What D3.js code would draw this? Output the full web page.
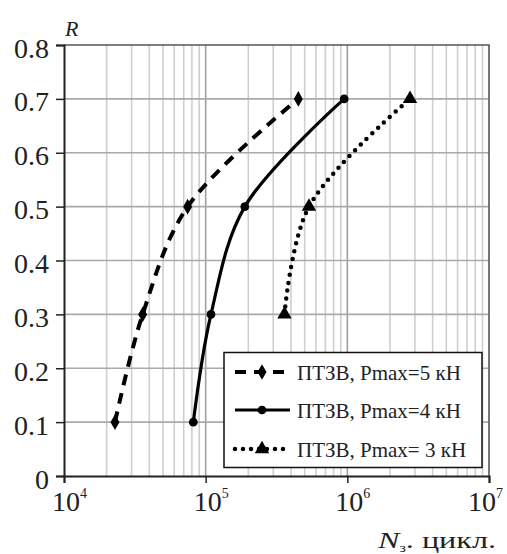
<!DOCTYPE html>
<html>
<head>
<meta charset="utf-8">
<script src="https://cdn.jsdelivr.net/npm/d3@7"></script>
</head>
<body style="margin:0">
<svg id="chart" width="507" height="554"></svg>
<script>
// R values (y) and cycles to failure (x) for each load
const rValues5 = [0.1, 0.3, 0.5, 0.7];
const nValues5 = [22900, 35900, 74600, 451000];
const rValues4 = [0.1, 0.3, 0.5, 0.7];
const nValues4 = [81800, 109000, 189000, 950000];
const rValues3 = [0.3, 0.5, 0.7];
const nValues3 = [360000, 536000, 2770000];

const seriesNames = ['ПТЗВ, Pmax=5 кН', 'ПТЗВ, Pmax=4 кН', 'ПТЗВ, Pmax= 3 кН'];
const yTicks = [0, 0.1, 0.2, 0.3, 0.4, 0.5, 0.6, 0.7, 0.8];
const xDecades = [4, 5, 6, 7];

const plotL = 64, plotR = 489, plotT = 45, plotB = 476;
const FONT = 'Liberation Serif';

const svg = d3.select('#chart');

const xscale = d3.scaleLog()
                .domain([1e4, 1e7])
                .range([plotL, plotR]);

const yscale = d3.scaleLinear()
                .domain([0, 0.8])
                .range([plotB, plotT]);

// grid: minor verticals
const minor = [];
[1e4, 1e5, 1e6].forEach(d => { for (let k = 2; k <= 9; k++) minor.push(d * k); });

svg.append('g').selectAll('line')
  .data(minor)
  .enter().append('line')
  .attr('x1', d => xscale(d)).attr('x2', d => xscale(d))
  .attr('y1', plotT).attr('y2', plotB)
  .attr('stroke', '#cfcfcf')
  .attr('stroke-width', 1.6);

svg.append('g').selectAll('line')
  .data([1e5, 1e6])
  .enter().append('line')
  .attr('x1', d => xscale(d)).attr('x2', d => xscale(d))
  .attr('y1', plotT).attr('y2', plotB)
  .attr('stroke', '#a0a0a0')
  .attr('stroke-width', 1.6);

svg.append('g').selectAll('line')
  .data(yTicks.slice(1, -1))
  .enter().append('line')
  .attr('x1', plotL).attr('x2', plotR)
  .attr('y1', d => yscale(d)).attr('y2', d => yscale(d))
  .attr('stroke', '#aaaaaa')
  .attr('stroke-width', 1.6);

// frame top/right
svg.append('path')
  .attr('d', `M${plotL},${plotT}H${plotR}V${plotB}`)
  .attr('fill', 'none')
  .attr('stroke', '#555')
  .attr('stroke-width', 1.6);

// axes
const y_axis = d3.axisLeft(yscale)
                .tickValues(yTicks)
                .tickSize(8)
                .tickFormat(d => d === 0 ? '0' : d3.format('.1f')(d));

const yg = svg.append('g')
  .attr('transform', `translate(${plotL},0)`)
  .call(y_axis)
  .attr('font-family', FONT)
  .attr('font-size', 28);
yg.select('.domain').attr('stroke', '#222').attr('stroke-width', 2);
yg.selectAll('.tick line').attr('stroke', '#222').attr('stroke-width', 1.5);
yg.selectAll('.tick text')
  .attr('x', -15)
  .attr('dy', '0.43em')
  .attr('font-family', FONT)
  .attr('font-size', 28)
  .attr('fill', '#222');

const x_axis = d3.axisBottom(xscale)
                .tickValues(xDecades.map(p => Math.pow(10, p)))
                .tickSize(7)
                .tickFormat('');

const xg = svg.append('g')
  .attr('transform', `translate(0,${plotB})`)
  .call(x_axis);
xg.select('.domain').attr('stroke', '#222').attr('stroke-width', 2);
xg.selectAll('.tick line').attr('stroke', '#222').attr('stroke-width', 1.5);

// decade labels 10^n (last one pulled in so it fits)
const xl = svg.append('g').selectAll('text')
  .data(xDecades)
  .enter().append('text')
  .attr('x', (d, i) => xscale(Math.pow(10, d)) - (i === xDecades.length - 1 ? 21 : 12))
  .attr('y', 511)
  .attr('fill', '#222')
  .attr('font-family', FONT)
  .attr('font-size', 28);
xl.append('tspan').text('10');
xl.append('tspan').attr('dy', -13).attr('font-size', 14).text(d => d);

// axis titles
svg.append('text')
  .attr('x', 65).attr('y', 36)
  .attr('fill', '#222')
  .attr('font-family', FONT)
  .attr('font-size', 22)
  .attr('font-style', 'italic')
  .text('R');

const nt = svg.append('text')
  .attr('x', 378).attr('y', 548)
  .attr('fill', '#222')
  .attr('font-family', FONT)
  .attr('font-size', 24)
  .attr('textLength', 118)
  .attr('lengthAdjust', 'spacingAndGlyphs');
nt.append('tspan').attr('font-style', 'italic').text('N');
nt.append('tspan').attr('dy', 4).attr('font-size', 12).text('з');
nt.append('tspan').attr('dy', -4).text('. цикл.');

// series
const series = [
  {x: nValues5, y: rValues5, dash: '11,8', width: 4, cap: 'butt', marker: d3.symbolDiamond, msize: 70},
  {x: nValues4, y: rValues4, dash: null, width: 3.2, cap: 'butt', marker: d3.symbolCircle, msize: 60},
  {x: nValues3, y: rValues3, dash: '0,8', width: 4.5, cap: 'round', marker: d3.symbolTriangle, msize: 90}
];

const line = d3.line()
  .x(d => xscale(d[0]))
  .y(d => yscale(d[1]))
  .curve(d3.curveCatmullRom.alpha(0.5));

series.forEach(s => {
  const pts = s.x.map((v, i) => [v, s.y[i]]);
  svg.append('path')
    .datum(pts)
    .attr('d', line)
    .attr('fill', 'none')
    .attr('stroke', '#000')
    .attr('stroke-width', s.width)
    .attr('stroke-linecap', s.cap)
    .attr('stroke-dasharray', s.dash);
  svg.append('g').selectAll('path')
    .data(pts)
    .enter().append('path')
    .attr('d', d3.symbol().type(s.marker).size(s.msize))
    .attr('transform', d => `translate(${xscale(d[0])},${yscale(d[1])})`)
    .attr('fill', '#000');
});

// legend
const lg = svg.append('g');
lg.append('rect')
  .attr('x', 224).attr('y', 352.5)
  .attr('width', 258).attr('height', 115)
  .attr('fill', '#fff')
  .attr('stroke', '#111')
  .attr('stroke-width', 1.5);

const rowY = [372, 410, 449];
series.forEach((s, i) => {
  lg.append('line')
    .attr('x1', 235).attr('x2', 290)
    .attr('y1', rowY[i]).attr('y2', rowY[i])
    .attr('stroke', '#000')
    .attr('stroke-width', s.width)
    .attr('stroke-linecap', s.cap)
    .attr('stroke-dasharray', s.dash);
  lg.append('path')
    .attr('d', d3.symbol().type(s.marker).size(s.msize))
    .attr('transform', `translate(262,${rowY[i]})`)
    .attr('fill', '#000');
  lg.append('text')
    .attr('x', 297).attr('y', rowY[i] + 8)
    .attr('fill', '#222')
    .attr('font-family', FONT)
    .attr('font-size', 21)
    .text(seriesNames[i]);
});
</script>
</body>
</html>
